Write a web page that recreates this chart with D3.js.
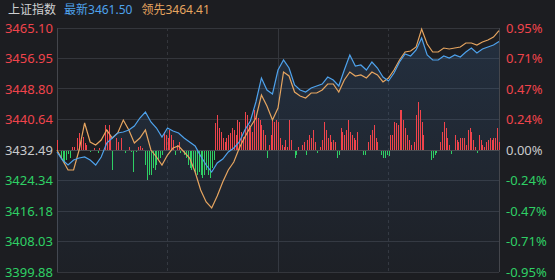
<!DOCTYPE html>
<html><head><meta charset="utf-8">
<script src="https://cdn.jsdelivr.net/npm/d3@7"></script>
<style>body{margin:0;background:#1c1d21;}svg{display:block}</style>
</head><body><svg id="c" width="555" height="280"></svg>
<script>
const title = "上证指数";
const latestLabel = "最新", latestValue = "3461.50";
const leadLabel = "领先", leadValue = "3464.41";
const prevClose = 3432.49;
const priceTicks = [3465.10, 3456.95, 3448.80, 3440.64, 3432.49, 3424.34, 3416.18, 3408.03, 3399.88];
const pctTicks = ["0.95%", "0.71%", "0.47%", "0.24%", "0.00%", "-0.24%", "-0.47%", "-0.71%", "-0.95%"];
const sessionMinutes = [0, 240];
const quarterMarks = [60, 120, 180];
const sampleMinutes = d3.range(0, 241, 3);
const indexSeries = [3431.96, 3429.82, 3428.48, 3429.82, 3430.35, 3430.62, 3429.82, 3428.48, 3430.62, 3434.36,
  3435.70, 3437.03, 3437.30, 3437.84, 3438.91, 3441.04, 3442.65, 3439.97, 3438.37, 3435.96,
  3438.37, 3437.57, 3437.03, 3435.70, 3434.63, 3433.56, 3430.89, 3428.48, 3426.61, 3429.02,
  3430.08, 3431.96, 3433.02, 3434.63, 3437.84, 3440.24, 3445.32, 3451.74, 3448.53, 3447.46,
  3453.87, 3456.55, 3454.41, 3449.86, 3448.53, 3447.99, 3449.06, 3449.60, 3450.13, 3452.00,
  3451.20, 3449.60, 3453.87, 3457.88, 3454.94, 3455.21, 3453.87, 3456.01, 3454.41, 3452.00,
  3450.93, 3453.07, 3456.01, 3458.15, 3457.62, 3459.22, 3462.43, 3457.88, 3456.55, 3456.55,
  3457.62, 3457.08, 3457.88, 3457.35, 3458.69, 3459.75, 3458.42, 3459.49, 3460.02, 3460.56,
  3461.50];
const leadSeries = [3432.49, 3429.82, 3427.14, 3427.14, 3432.49, 3439.71, 3434.63, 3433.83, 3435.16, 3437.84,
  3435.70, 3437.03, 3440.51, 3437.84, 3434.36, 3435.70, 3437.84, 3432.49, 3430.62, 3428.48,
  3431.15, 3433.02, 3433.56, 3431.96, 3430.35, 3426.61, 3421.80, 3418.59, 3416.99, 3420.19,
  3423.94, 3427.14, 3429.28, 3433.02, 3435.96, 3438.64, 3441.04, 3447.19, 3444.25, 3440.51,
  3443.72, 3453.34, 3452.27, 3447.99, 3446.92, 3446.39, 3447.73, 3447.73, 3448.53, 3450.13,
  3450.13, 3447.99, 3451.20, 3453.34, 3452.27, 3452.54, 3451.74, 3453.34, 3452.54, 3450.67,
  3451.74, 3453.87, 3456.55, 3458.69, 3458.95, 3460.02, 3464.83, 3460.82, 3458.69, 3458.69,
  3459.75, 3459.49, 3459.75, 3460.02, 3461.09, 3461.09, 3460.56, 3461.36, 3461.89, 3462.69,
  3464.41];
const barSeries = [10, 0, -8, -12, -13, -10, -4, -8, 3, 3,
  0, 12, 17, 10, 13, 7, 5, 0, -2, 0,
  2, 0, -3, 2, 0, -2, 25, 20, 25, 15,
  -20, 0, 12, 8, 0, 12, 0, -3, 0, 3,
  -2, -22, 0, -2, 3, 4, 2, 0, -15, -30,
  -25, -25, -18, -20, -15, -10, -8, -5, 18, 15,
  12, 20, 15, 10, -5, 5, 8, -3, 0, -5,
  -8, -15, -18, -20, -18, -22, -25, -22, -25, -28,
  -25, -20, -25, -28, -18, -10, 27, 35, 22, 18,
  12, 8, 12, 15, 17, 22, 20, 15, 30, 28,
  18, 13, 38, 35, 25, 22, 18, 40, 35, 32,
  30, 25, 20, 15, -8, 5, 15, 30, 28, 30,
  28, 12, 5, 3, 10, 3, 30, 10, 0, -8,
  -5, 3, 0, 5, 8, -5, 10, 15, 12, 20,
  8, -3, 0, 3, 10, 28, 20, 12, 15, 8,
  10, 8, -8, -5, 22, 18, 15, 20, 30, 18,
  15, 12, 10, 18, 0, 0, -5, -5, 0, 8,
  15, 20, 25, 12, 8, 0, -5, -8, -8, -5,
  -6, 15, 15, 28, 27, 25, 40, 40, 30, 22,
  15, 10, 5, 0, 8, 35, 48, 40, 28, 15,
  0, 0, 0, -10, -8, -5, -3, 0, 8, 18,
  28, 22, 12, 5, -4, 0, 15, 10, 8, 12,
  12, 12, 5, 20, 22, 18, 10, 3, -3, 15,
  10, 5, 3, 8, 10, 12, 10, 12, 12, 22,
  8];

const C = {bg: "#1c1d21", grid: "#34363c", border: "#44464c", red: "#f0444c", green: "#2fd065", flat: "#c9cacc",
  blue: "#4ea2ec", orange: "#e6a560", title: "#cfd0d2"};
const W = 555, H = 280, L = 57, R = 499, T = 28, B = 272;
const svg = d3.select("#c");
svg.append("rect").attr("width", W).attr("height", H).attr("fill", C.bg);

const x = d3.scaleLinear().domain(sessionMinutes).range([L, R]);
const y = d3.scaleLinear().domain([d3.min(priceTicks), d3.max(priceTicks)]).range([B, T]);
const yBar = d3.scaleLinear().domain([-122, 122]).range([B, T]);
const tickColor = v => Math.abs(v - prevClose) < 0.005 ? C.flat : (v > prevClose ? C.red : C.green);
const fontF = "'Noto Sans', 'Noto Sans CJK SC', sans-serif";

const defs = svg.append("defs");
const gr = defs.append("linearGradient").attr("id", "ga").attr("x1", 0).attr("y1", 0).attr("x2", 0).attr("y2", 1);
gr.append("stop").attr("offset", "0%").attr("stop-color", "#3d6fa8").attr("stop-opacity", 0.22);
gr.append("stop").attr("offset", "100%").attr("stop-color", "#3d6fa8").attr("stop-opacity", 0.04);

svg.append("g").selectAll("line").data(priceTicks).join("line")
  .attr("x1", L).attr("x2", R).attr("y1", d => y(d)).attr("y2", d => y(d))
  .attr("stroke", C.grid).attr("stroke-width", 1).attr("shape-rendering", "crispEdges");
svg.append("g").selectAll("line").data(quarterMarks).join("line")
  .attr("x1", d => x(d)).attr("x2", d => x(d)).attr("y1", T).attr("y2", B)
  .attr("stroke", C.grid).attr("stroke-width", 1).attr("shape-rendering", "crispEdges")
  .attr("stroke-dasharray", d => d === 120 ? null : "3,3");
svg.append("g").selectAll("line").data(sessionMinutes).join("line")
  .attr("x1", d => x(d)).attr("x2", d => x(d)).attr("y1", T).attr("y2", B)
  .attr("stroke", C.border).attr("stroke-width", 1).attr("shape-rendering", "crispEdges");

const pts = sampleMinutes.map((m, i) => ({m, v: indexSeries[i], o: leadSeries[i]}));
svg.append("path").datum(pts)
  .attr("d", d3.area().x(d => x(d.m)).y0(B).y1(d => y(d.v)))
  .attr("fill", "url(#ga)");

svg.append("g").attr("shape-rendering", "crispEdges").selectAll("rect").data(barSeries).join("rect")
  .attr("x", (d, i) => Math.round(x(i)))
  .attr("width", 1)
  .attr("y", d => Math.round(Math.min(yBar(0), yBar(d))))
  .attr("height", d => Math.round(Math.abs(yBar(d) - yBar(0))))
  .attr("fill", d => d >= 0 ? C.red : C.green);

svg.append("line").attr("x1", L).attr("x2", R).attr("y1", y(prevClose)).attr("y2", y(prevClose))
  .attr("stroke", "#4a4c52").attr("stroke-width", 1).attr("shape-rendering", "crispEdges");

svg.append("path").datum(pts).attr("d", d3.line().x(d => x(d.m)).y(d => y(d.o)))
  .attr("fill", "none").attr("stroke", C.orange).attr("stroke-width", 1.2);
svg.append("path").datum(pts).attr("d", d3.line().x(d => x(d.m)).y(d => y(d.v)))
  .attr("fill", "none").attr("stroke", C.blue).attr("stroke-width", 1.2);

const la = svg.append("g").attr("transform", `translate(${L - 4},0)`)
  .call(d3.axisLeft(y).tickValues(priceTicks).tickFormat(d3.format(".2f")).tickSize(0).tickPadding(0));
la.select(".domain").remove();
la.selectAll("text").attr("fill", d => tickColor(d)).attr("font-size", 13).attr("font-family", fontF);
const ra = svg.append("g").attr("transform", `translate(${R + 7},0)`)
  .call(d3.axisRight(y).tickValues(priceTicks).tickFormat((d, i) => pctTicks[i]).tickSize(0).tickPadding(0));
ra.select(".domain").remove();
ra.selectAll("text").attr("fill", d => tickColor(d)).attr("font-size", 13).attr("font-family", fontF);

const hd = svg.append("text").attr("x", 8).attr("y", 14).attr("font-size", 12).attr("font-family", fontF);
hd.append("tspan").attr("fill", C.title).text(title);
hd.append("tspan").attr("dx", 8).attr("fill", C.blue).text(latestLabel + latestValue);
hd.append("tspan").attr("dx", 9).attr("fill", C.orange).text(leadLabel + leadValue);
</script></body></html>
